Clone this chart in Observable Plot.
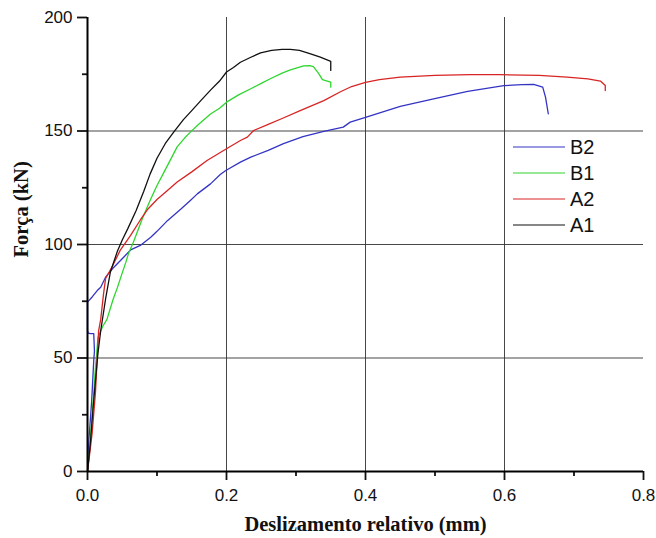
<!DOCTYPE html>
<html>
<head>
<meta charset="utf-8">
<script src="https://cdn.jsdelivr.net/npm/d3@7"></script>
<script src="https://cdn.jsdelivr.net/npm/@observablehq/plot@0.6"></script>
<style>
  html, body { margin: 0; padding: 0; background: #fff; }
  #wrap { position: relative; width: 656px; height: 538px; }
  #legend { position: absolute; left: 513px; top: 134px; font-family: "Liberation Sans", Arial, sans-serif; font-size: 20px; color: #111; }
  .row { display: flex; align-items: center; height: 26.1px; }
  .row svg { width: 52px; height: 6px; margin-right: 5px; }
</style>
</head>
<body>
<div id="wrap"><div id="legend"></div></div>
<script>
// Series names and colours
const seriesNames = ["B2", "B1", "A2", "A1"];
const seriesColors = ["#3434c4", "#2ed62e", "#d82424", "#111111"];

// Tick values
const xMajorTicks = [0, 0.2, 0.4, 0.6, 0.8];
const xMinorTicks = [0.1, 0.3, 0.5, 0.7];
const yMajorTicks = [0, 50, 100, 150, 200];
const yMinorTicks = [25, 75, 125, 175];
const xGrid = [0.2, 0.4, 0.6];
const yGrid = [50, 100, 150];

const xTitle = "Deslizamento relativo (mm)";
const yTitle = "Força (kN)";

// Data: [deslizamento (mm), força (kN)]
const A1 = [[0,0],[0.004,12],[0.008,28],[0.012,42],[0.015,52],[0.019,62],[0.026,76],[0.033,88],[0.043,97],[0.05,102],[0.058,107],[0.07,115],[0.081,123.5],[0.09,131],[0.1,138],[0.112,144.5],[0.124,149.5],[0.138,155],[0.15,159],[0.163,163.4],[0.177,168],[0.19,172],[0.2,176],[0.21,178],[0.22,180.3],[0.235,182.5],[0.249,184.4],[0.265,185.5],[0.28,186],[0.292,186],[0.305,185.5],[0.321,184],[0.335,182.5],[0.35,180.7],[0.35,176.7]];

const B1 = [[0,0],[0.003,10],[0.0067,25],[0.0095,37],[0.0115,46],[0.013,51],[0.015,59],[0.022,64],[0.028,67],[0.037,76],[0.043,81],[0.05,87.5],[0.055,92],[0.059,96],[0.066,101],[0.079,111.5],[0.086,116.5],[0.091,120],[0.1,126],[0.112,133],[0.129,143],[0.14,147],[0.148,149.5],[0.16,153],[0.177,157.5],[0.19,160],[0.2,162.7],[0.218,166],[0.235,168.6],[0.25,171],[0.263,173],[0.28,175.5],[0.292,176.9],[0.311,178.7],[0.32,178.8],[0.325,178.4],[0.333,175.2],[0.338,172.6],[0.345,172],[0.35,171.5],[0.35,169.3]];

const A2 = [[0,0],[0.004,10],[0.0067,17],[0.0115,35],[0.014,50],[0.016,62],[0.019,67],[0.023,78],[0.026,85],[0.036,90.5],[0.047,97.4],[0.062,104],[0.076,110.8],[0.086,115.3],[0.1,119.8],[0.115,123.8],[0.129,127.5],[0.15,132],[0.172,137],[0.2,142.2],[0.22,145.8],[0.23,147.3],[0.239,150.2],[0.26,152.9],[0.28,155.5],[0.306,159],[0.34,163.4],[0.364,167.3],[0.38,169.6],[0.4,171.4],[0.42,172.6],[0.45,173.7],[0.5,174.5],[0.55,174.8],[0.594,174.8],[0.65,174.5],[0.69,173.7],[0.72,173],[0.738,172],[0.745,170],[0.745,167.8]];

const B2 = [[0,0],[0.002,14],[0.006,31],[0.009,49],[0.010,53],[0.009,60.7],[0.0043,60.7],[0.001,61],[0,62],[0,74.6],[0.007,77],[0.014,79.7],[0.019,81.2],[0.026,85.6],[0.038,90],[0.052,94.4],[0.062,97.6],[0.076,99.6],[0.091,103.2],[0.1,105.8],[0.115,110.5],[0.134,115.5],[0.148,119.4],[0.158,122.3],[0.177,126.7],[0.191,130.8],[0.199,132.6],[0.22,136.3],[0.235,138.5],[0.26,141.5],[0.282,144.4],[0.31,147.5],[0.34,149.8],[0.368,151.7],[0.378,153.9],[0.4,156],[0.45,160.8],[0.498,164.2],[0.547,167.5],[0.599,170],[0.625,170.4],[0.642,170.5],[0.655,169.3],[0.659,164.9],[0.663,157.6]];

const seriesData = {B2, B1, A2, A1};
const rows = seriesNames.flatMap(name => seriesData[name].map(([x, y], i) => ({name, x, y, i})));

const tickFont = "Liberation Sans, Arial, sans-serif";
const titleFont = "Liberation Serif, Times New Roman, serif";

const chart = Plot.plot({
  width: 656,
  height: 538,
  marginLeft: 87,
  marginRight: 13,
  marginTop: 17,
  marginBottom: 67,
  style: {background: "#fff", color: "#111"},
  x: {domain: [0, 0.8]},
  y: {domain: [0, 200]},
  color: {domain: seriesNames, range: seriesColors},
  marks: [
    Plot.gridX(xGrid, {stroke: "#333", strokeOpacity: 0.9, strokeWidth: 1}),
    Plot.gridY(yGrid, {stroke: "#333", strokeOpacity: 0.9, strokeWidth: 1}),
    Plot.line(rows, {x: "x", y: "y", z: "name", stroke: "name", strokeWidth: 1.3, sort: null}),
    Plot.axisX(xMajorTicks, {tickSize: 9, tickPadding: 8, tickFormat: d3.format(".1f"), fontSize: 17, fontFamily: tickFont, strokeWidth: 1.8, label: null}),
    Plot.axisX(xMinorTicks, {tickSize: 5, tickFormat: () => "", strokeWidth: 1.8, label: null}),
    Plot.axisY(yMajorTicks, {tickSize: 10, tickPadding: 5, tickFormat: d3.format("d"), fontSize: 17, fontFamily: tickFont, strokeWidth: 1.8, label: null}),
    Plot.axisY(yMinorTicks, {tickSize: 5, tickFormat: () => "", strokeWidth: 1.8, label: null}),
    Plot.ruleY([0], {stroke: "#000", strokeWidth: 2}),
    Plot.ruleX([0], {stroke: "#000", strokeWidth: 2}),
    Plot.text([xTitle], {frameAnchor: "bottom", dy: 59, fontSize: 20.5, fontWeight: "bold", fontFamily: titleFont, fill: "#111"}),
    Plot.text([yTitle], {frameAnchor: "left", dx: -66, dy: 13, rotate: -90, fontSize: 20.5, fontWeight: "bold", fontFamily: titleFont, fill: "#111"})
  ]
});

const wrap = document.getElementById("wrap");
wrap.insertBefore(chart, wrap.firstChild);

const legend = document.getElementById("legend");
seriesNames.forEach((name, i) => {
  const row = document.createElement("div");
  row.className = "row";
  row.innerHTML = `<svg viewBox="0 0 52 6"><line x1="0" x2="52" y1="3" y2="3" stroke="${seriesColors[i]}" stroke-width="1.2"/></svg><span>${name}</span>`;
  legend.appendChild(row);
});
</script>
</body>
</html>
